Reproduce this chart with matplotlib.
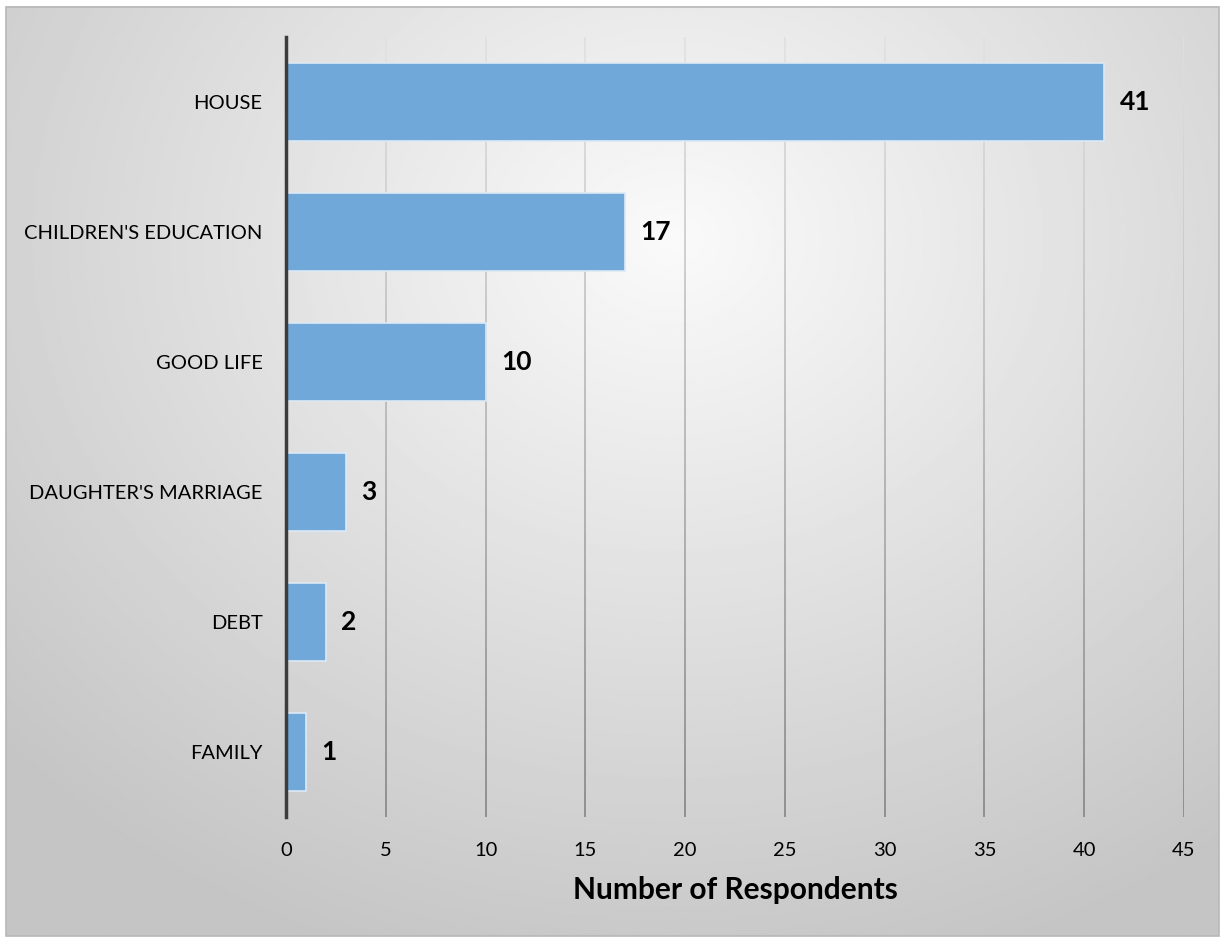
import matplotlib
matplotlib.use('AGG')
import matplotlib.pyplot as plt
from matplotlib.patches import Rectangle
from matplotlib.collections import LineCollection
import numpy as np

# survey answers, top to bottom
categories = ['HOUSE', "CHILDREN'S EDUCATION", 'GOOD LIFE', "DAUGHTER'S MARRIAGE", 'DEBT', 'FAMILY']
respondents = [41, 17, 10, 3, 2, 1]
xticks = [0, 5, 10, 15, 20, 25, 30, 35, 40, 45]

plt.rcParams['font.family'] = ['Lato', 'DejaVu Sans']

fig = plt.figure(figsize=(12.25, 9.41), dpi=100)

# radial grey backdrop behind the whole chart
bg = fig.add_axes([0, 0, 1, 1], zorder=-10)
bg.set_axis_off()
yy, xx = np.mgrid[0:1:400j, 0:1:500j]
r = np.sqrt(((xx - 0.55) / 1.0) ** 2 + ((yy - 0.25) / 1.1) ** 2)
shade = np.clip(0.98 - 0.28 * r, 0.77, 1.0)
bg.imshow(shade, cmap='gray', vmin=0, vmax=1, extent=(0.005, 0.995, 0.005, 0.993),
          origin='upper', aspect='auto', interpolation='bilinear')
bg.add_patch(Rectangle((0.005, 0.005), 0.99, 0.988, fill=False, ec='#b8b8b8', lw=1.2))
bg.set_xlim(0, 1)
bg.set_ylim(0, 1)

ax = fig.add_axes([0.2335, 0.1318, 0.733, 0.829])
ax.patch.set_alpha(0)

n = len(categories)
ypos = np.arange(n)

# vertical gridlines that fade from pale at the top to mid grey at the bottom
steps = 60
edges = np.linspace(-0.5, n - 0.5, steps + 1)
grey = np.linspace(0.88, 0.52, steps)
for xt in xticks[1:]:
    segs = [[(xt, edges[i]), (xt, edges[i + 1])] for i in range(steps)]
    cols = [(g, g, g) for g in grey]
    ax.add_collection(LineCollection(segs, colors=cols, lw=1.2, zorder=1))

ax.barh(ypos, respondents, height=0.6, color='#71a8da', edgecolor='#dce9f5', lw=1.2, zorder=3)
for y, v in zip(ypos, respondents):
    ax.annotate(f'{v}', (v, y), xytext=(11, 0), textcoords='offset points',
                va='center', ha='left', fontsize=19, fontweight='bold', color='black')

ax.set_yticks(ypos, categories)
ax.set_xticks(xticks)
ax.set_xlim(0, 45)
ax.set_ylim(n - 0.5, -0.5)
ax.tick_params(axis='both', length=0, labelsize=14.5)
ax.tick_params(axis='y', pad=17)
ax.tick_params(axis='x', pad=18)
for s in ['top', 'right', 'bottom']:
    ax.spines[s].set_visible(False)
ax.spines['left'].set_color('#3c3c3c')
ax.spines['left'].set_linewidth(2.5)
ax.spines['left'].set_zorder(4)
ax.set_xlabel('Number of Respondents', fontsize=21.5, fontweight='bold', labelpad=12)

fig.savefig('out.png', dpi=100)
